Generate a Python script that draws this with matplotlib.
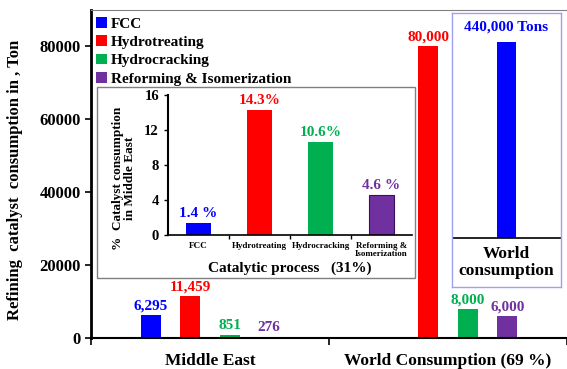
import numpy as np
import matplotlib.pyplot as plt
from matplotlib.patches import Rectangle

plt.rcParams['font.family'] = 'Liberation Serif'
plt.rcParams['font.weight'] = 'bold'

processes = ['FCC', 'Hydrotreating', 'Hydrocracking', 'Reforming & Isomerization']
short_names = ['FCC', 'Hydrotreating', 'Hydrocracking', 'Reforming &\nIsomerization']
colors = ['#0000ff', '#ff0000', '#00b050', '#7030a0']
regions = ['Middle East', 'World Consumption (69 %)']

middle_east = [6295, 11459, 851, 276]
world = [440000, 80000, 8000, 6000]
me_labels = ['6,295', '11,459', '851', '276']
world_labels = ['440,000 Tons', '80,000', '8,000', '6,000']

share_pct = [1.4, 14.3, 10.6, 4.6]
share_labels = ['1.4 %', '14.3%', '10.6%', '4.6 %']

W, H = 567, 369
fig = plt.figure(figsize=(W / 100, H / 100), dpi=100)

def fx(px):
    return px / W

def fy(py):
    return 1 - py / H

# main axes
ax = fig.add_axes([fx(91), fy(338), fx(567 - 91), fy(10) - fy(338)])
ax.set_xlim(-0.5, 1.475)
ax.set_ylim(0, 90000)
bw = 0.083
offs = (np.arange(4) - 1.5) * 0.166

handles = []
for i in range(4):
    b = ax.bar(0 + offs[i], middle_east[i], bw, color=colors[i], label=processes[i])
    handles.append(b)
    ax.annotate(me_labels[i], (0 + offs[i], middle_east[i]), xytext=(0, 2),
                textcoords='offset points', ha='center', va='bottom',
                color=colors[i], fontsize=11, fontweight='bold')
# world FCC is far off scale, shown in its own box
for i in range(1, 4):
    ax.bar(1 + offs[i], world[i], bw, color=colors[i])
    ax.annotate(world_labels[i], (1 + offs[i], world[i]), xytext=(0, 2),
                textcoords='offset points', ha='center', va='bottom',
                color=colors[i], fontsize=11, fontweight='bold')

ax.spines['right'].set_visible(False)
ax.spines['top'].set_color('#808080')
ax.spines['left'].set_linewidth(2)
ax.spines['bottom'].set_linewidth(1.5)
ax.set_yticks([0, 20000, 40000, 60000, 80000])
ax.tick_params(axis='y', labelsize=12, width=1.2, length=4)
ax.set_xticks([-0.5, 0.5, 1.5])
ax.set_xticklabels([])
ax.set_xticks([0, 1], minor=True)
ax.set_xticklabels(regions, minor=True, fontsize=12.5, fontweight='bold')
ax.tick_params(axis='x', which='major', length=5, width=1.2)
ax.tick_params(axis='x', which='minor', length=0, pad=11)
for t in ax.get_yticklabels():
    t.set_fontweight('bold')
fig.text(fx(15), fy(180), 'Refining  catalyst  consumption in , Ton', rotation=90,
         ha='center', va='center', fontsize=12, fontweight='bold')

leg = ax.legend(handles=handles, loc='upper left', bbox_to_anchor=(fx(96), fy(17)),
                bbox_transform=fig.transFigure, frameon=False, fontsize=11,
                handlelength=0.7, handleheight=0.7, handletextpad=0.3,
                labelspacing=0.3, borderaxespad=0, borderpad=0)
for t in leg.get_texts():
    t.set_fontweight('bold')

# frame around the Middle East breakdown
fig.patches.append(Rectangle((fx(97), fy(278)), fx(415 - 97), fy(87) - fy(278),
                             transform=fig.transFigure, facecolor='white',
                             edgecolor='#808080', lw=1.0, zorder=1))

ax2 = fig.add_axes([fx(168), fy(235), fx(412 - 168), fy(95) - fy(235)], zorder=2)
ax2.set_facecolor('none')
x = np.arange(4)
ax2.bar(x, share_pct, 0.41, color=colors, edgecolor=['none', 'none', 'none', '#3a1060'], lw=0.8)
for i in range(4):
    ax2.annotate(share_labels[i], (x[i], share_pct[i]), xytext=(0, 2),
                 textcoords='offset points', ha='center', va='bottom',
                 color=colors[i], fontsize=11, fontweight='bold')
ax2.set_xlim(-0.5, 3.5)
ax2.set_ylim(0, 16)
ax2.set_yticks([0, 4, 8, 12, 16])
ax2.tick_params(axis='y', labelsize=10.5, length=3, width=1)
for t in ax2.get_yticklabels():
    t.set_fontweight('bold')
ax2.set_xticks([0.5, 1.5, 2.5])
ax2.set_xticklabels([])
ax2.set_xticks(x, minor=True)
ax2.set_xticklabels(short_names, minor=True, fontsize=6.5, fontweight='bold', linespacing=1.0)
ax2.tick_params(axis='x', which='major', length=3, width=1)
ax2.tick_params(axis='x', which='minor', length=0, pad=5)
ax2.spines['top'].set_visible(False)
ax2.spines['right'].set_visible(False)
ax2.spines['left'].set_linewidth(1.5)
ax2.spines['bottom'].set_linewidth(1.2)
fig.text(fx(290), fy(268), 'Catalytic process   (31%)', ha='center', va='center',
         fontsize=11, fontweight='bold')
fig.text(fx(124), fy(178), '%  Catalyst consumption\nin Middle East', ha='center', va='center',
         rotation=90, fontsize=9.5, fontweight='bold', linespacing=1.0)

# world total box
ax3 = fig.add_axes([fx(452), fy(287), fx(561 - 452), fy(13) - fy(287)], zorder=2)
ax3.set_xlim(-1, 1)
ax3.set_ylim(-110000, 505000)
ax3.bar(0, world[0], 0.35, color=colors[0])
ax3.axhline(0, color='black', lw=1.2)
ax3.annotate(world_labels[0], (0, world[0]), xytext=(0, 6), textcoords='offset points',
             ha='center', va='bottom', color=colors[0], fontsize=11, fontweight='bold')
ax3.text(0, -55000, 'World\nconsumption', ha='center', va='center', fontsize=12.5,
         fontweight='bold', linespacing=1.05)
ax3.set_xticks([])
ax3.set_yticks([])
for s in ax3.spines.values():
    s.set_color('#a0a0f0')
    s.set_linewidth(1.0)

fig.savefig('out.png', dpi=100)
